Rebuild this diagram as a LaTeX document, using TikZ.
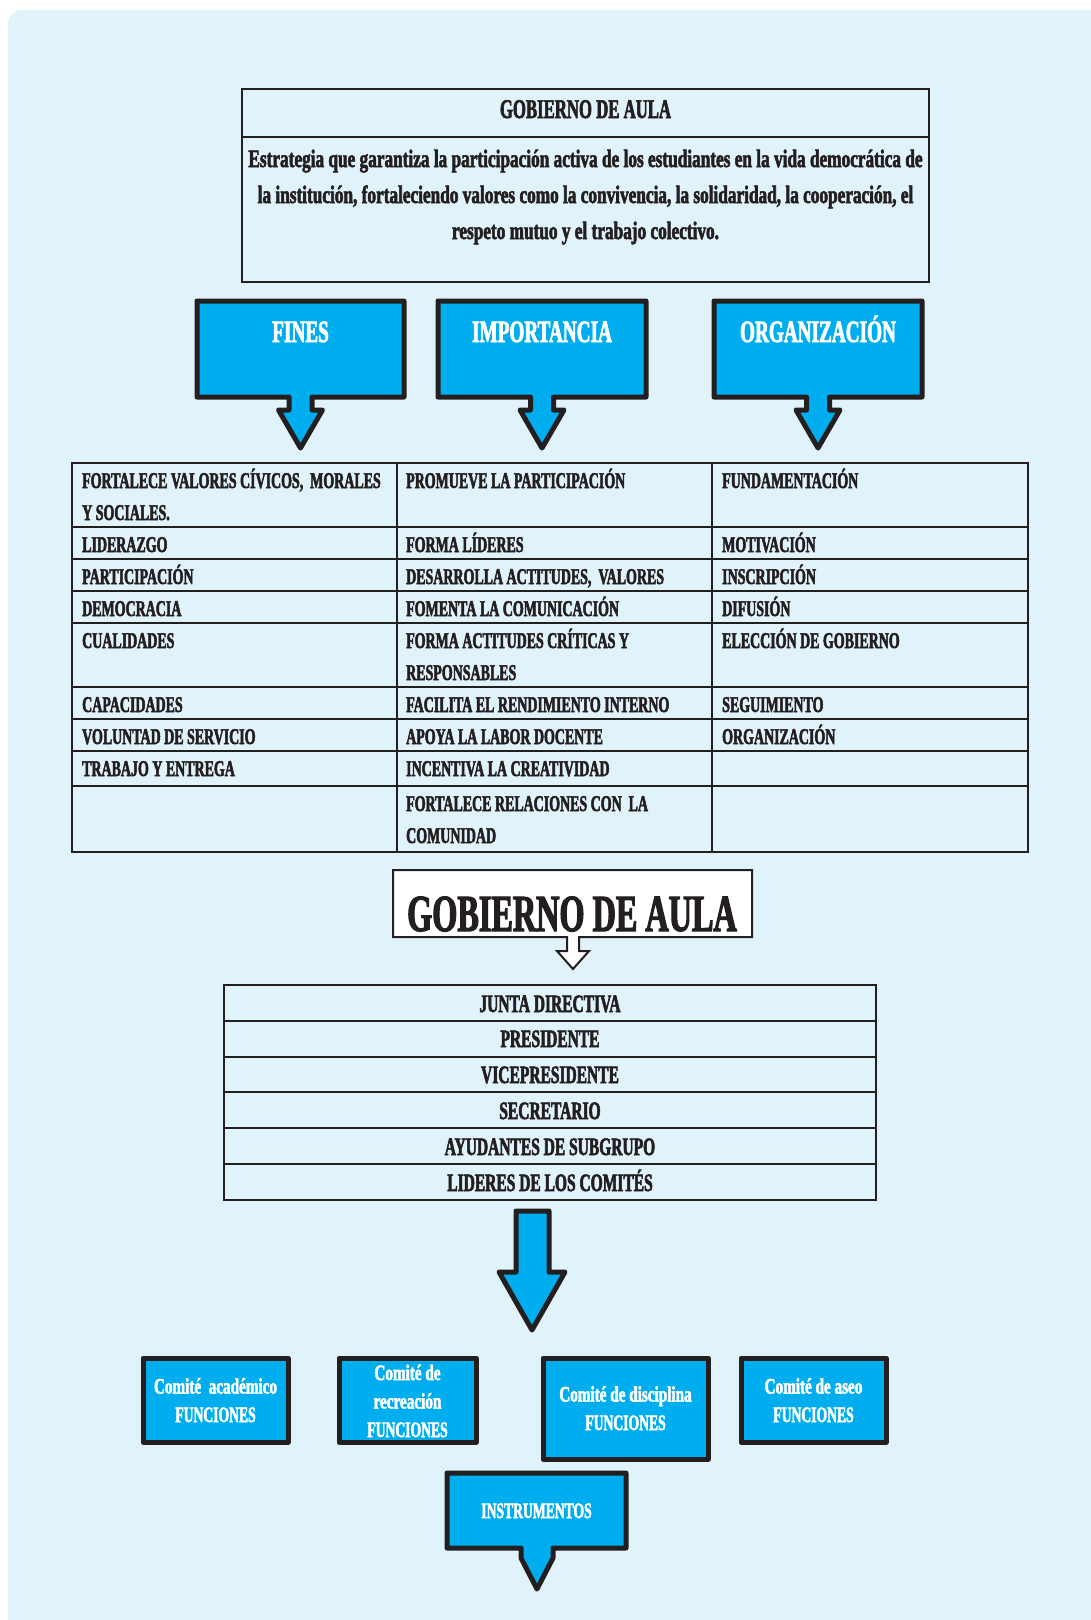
\documentclass[tikz,border=0pt]{standalone}
\usepackage{fontspec}
\usepackage{xcolor}
\usepackage{tikz}

\newfontfamily\condfont{Liberation Serif}[FakeStretch=0.62,FakeBold=2.2]
\newfontfamily\condancha{Liberation Serif}[FakeStretch=0.69,FakeBold=2.2]

\definecolor{fondo}{RGB}{224,242,250}
\definecolor{azul}{RGB}{0,174,239}
\definecolor{tinta}{RGB}{35,31,32}

\tikzset{
	marco/.style={draw=tinta, line width=2.5pt},
	globo/.style={draw=tinta, fill=azul, line width=5pt, line join=round},
	celda/.style={anchor=base west, inner sep=0pt, align=left, text=tinta,
		font=\condfont\bfseries\fontsize{22.5}{32}\selectfont},
	fila/.style={anchor=base, inner sep=0pt, text=tinta,
		font=\condfont\bfseries\fontsize{25}{28}\selectfont},
	rotulo/.style={anchor=base, inner sep=0pt, text=white,
		font=\condfont\bfseries\fontsize{31}{36}\selectfont},
	comite/.style={anchor=base, inner sep=0pt, align=center, text=white,
		font=\condfont\bfseries\fontsize{22}{28.5}\selectfont},
}

\begin{document}
\begin{tikzpicture}[x=1pt,y=-1pt]
	\useasboundingbox (0,0) rectangle (1090,1620);
	\fill[white] (0,0) rectangle (1090,1620);
	\fill[fondo, rounded corners=14pt] (8,10) rectangle (1120,1650);

	% cuadro de definicion
	\draw[marco] (242,89) rectangle (929,282);
	\draw[marco] (242,137) -- (929,137);
	\node[anchor=base, inner sep=0pt, text=tinta, font=\condfont\bfseries\fontsize{27}{30}\selectfont]
		(titulo) at (585.5,118) {GOBIERNO DE AULA};
	\node[anchor=base, inner sep=0pt, align=center, text=tinta, font=\condancha\bfseries\fontsize{25}{36}\selectfont]
		(definicion) at (585.5,239) {Estrategia que garantiza la participación activa de los estudiantes en la vida democrática de\\
		la institución, fortaleciendo valores como la convivencia, la solidaridad, la cooperación, el\\
		respeto mutuo y el trabajo colectivo.};

	% globos de titulo
	\foreach \xa/\xb/\nom/\txt in {197/404/fines/FINES, 438/646/importancia/IMPORTANCIA, 714/922/organizacion/ORGANIZACIÓN}{
		\pgfmathsetmacro\xc{(\xa+\xb)/2}
		\draw[globo] (\xa,301) -- (\xb,301) -- (\xb,397) -- (\xc+11.5,397) -- (\xc+11.5,410)
			-- (\xc+22,410) -- (\xc,448) -- (\xc-22,410) -- (\xc-11.5,410) -- (\xc-11.5,397)
			-- (\xa,397) -- cycle;
		\node[rotulo] (\nom) at (\xc,342) {\txt};
	}

	% tabla
	\draw[marco] (72,463) rectangle (1028,852);
	\foreach \y in {527,559,591,623,687,719,751,786}
		\draw[marco] (72,\y) -- (1028,\y);
	\draw[marco] (397,463) -- (397,852);
	\draw[marco] (712,463) -- (712,852);

	\node[celda] (f1) at (82,520) {FORTALECE VALORES CÍVICOS,\ \ MORALES\\Y SOCIALES.};
	\node[celda] (f2) at (82,552) {LIDERAZGO};
	\node[celda] (f3) at (82,584) {PARTICIPACIÓN};
	\node[celda] (f4) at (82,616) {DEMOCRACIA};
	\node[celda] (f5) at (82,648) {CUALIDADES};
	\node[celda] (f6) at (82,712) {CAPACIDADES};
	\node[celda] (f7) at (82,744) {VOLUNTAD DE SERVICIO};
	\node[celda] (f8) at (82,776) {TRABAJO Y ENTREGA};

	\node[celda] (i1) at (406,488) {PROMUEVE LA PARTICIPACIÓN};
	\node[celda] (i2) at (406,552) {FORMA LÍDERES};
	\node[celda] (i3) at (406,584) {DESARROLLA ACTITUDES,\ \ VALORES};
	\node[celda] (i4) at (406,616) {FOMENTA LA COMUNICACIÓN};
	\node[celda] (i5) at (406,680) {FORMA ACTITUDES CRÍTICAS Y\\RESPONSABLES};
	\node[celda] (i6) at (406,712) {FACILITA EL RENDIMIENTO INTERNO};
	\node[celda] (i7) at (406,744) {APOYA LA LABOR DOCENTE};
	\node[celda] (i8) at (406,776) {INCENTIVA LA CREATIVIDAD};
	\node[celda] (i9) at (406,843) {FORTALECE RELACIONES CON\ \ LA\\COMUNIDAD};

	\node[celda] (o1) at (722,488) {FUNDAMENTACIÓN};
	\node[celda] (o2) at (722,552) {MOTIVACIÓN};
	\node[celda] (o3) at (722,584) {INSCRIPCIÓN};
	\node[celda] (o4) at (722,616) {DIFUSIÓN};
	\node[celda] (o5) at (722,648) {ELECCIÓN DE GOBIERNO};
	\node[celda] (o6) at (722,712) {SEGUIMIENTO};
	\node[celda] (o7) at (722,744) {ORGANIZACIÓN};

	% gobierno de aula
	\draw[draw=tinta, fill=white, line width=2pt] (393,870) -- (752,870) -- (752,937) -- (579,937)
		-- (579,951) -- (589,951) -- (573,969) -- (557,951) -- (567,951) -- (567,937)
		-- (393,937) -- cycle;
	\node[anchor=base, inner sep=0pt, text=tinta, font=\condfont\bfseries\fontsize{52}{60}\selectfont]
		(gobierno) at (572,931) {GOBIERNO DE AULA};

	\draw[marco] (224,985) rectangle (876,1200);
	\foreach \y in {1021,1057,1092,1128,1164}
		\draw[marco] (224,\y) -- (876,\y);
	\node[fila] (j1) at (550,1012) {JUNTA DIRECTIVA};
	\node[fila] (j2) at (550,1047) {PRESIDENTE};
	\node[fila] (j3) at (550,1083) {VICEPRESIDENTE};
	\node[fila] (j4) at (550,1119) {SECRETARIO};
	\node[fila] (j5) at (550,1155) {AYUDANTES DE SUBGRUPO};
	\node[fila] (j6) at (550,1191) {LIDERES DE LOS COMITÉS};

	% flecha a los comites
	\draw[globo] (516,1211) -- (549,1211) -- (549,1272) -- (565,1272) -- (532,1330)
		-- (499,1272) -- (516,1272) -- cycle;

	% comites
	\draw[globo] (143,1358) rectangle (288,1442);
	\draw[globo] (339,1358) rectangle (476,1442);
	\draw[globo] (543,1358) rectangle (708,1459);
	\draw[globo] (741,1358) rectangle (886,1442);
	\node[comite] (c1) at (215.5,1422) {{\condancha Comité\ \ académico}\\FUNCIONES};
	\node[comite] (c2) at (407.5,1437) {{\condancha Comité de}\\{\condancha recreación}\\FUNCIONES};
	\node[comite] (c3) at (625.5,1430) {{\condancha Comité de disciplina}\\FUNCIONES};
	\node[comite] (c4) at (813.5,1422) {{\condancha Comité de aseo}\\FUNCIONES};

	% instrumentos
	\draw[globo] (447,1473) -- (626,1473) -- (626,1548) -- (553,1548) -- (553,1558)
		-- (537,1589) -- (521,1558) -- (521,1548) -- (447,1548) -- cycle;
	\node[comite] (instrumentos) at (536.5,1518) {INSTRUMENTOS};
\end{tikzpicture}
\end{document}
